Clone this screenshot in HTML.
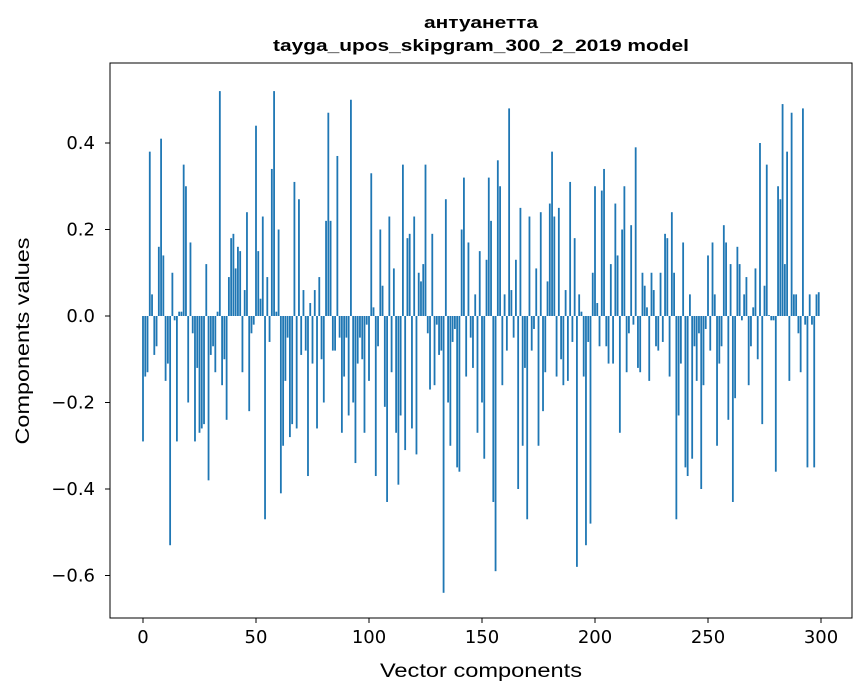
<!DOCTYPE html>
<html><head><meta charset="utf-8"><style>
body{margin:0;background:#fff}
svg{display:block;font-family:"Liberation Sans","DejaVu Sans",sans-serif}
</style></head><body>
<svg id="s" width="867" height="696" viewBox="0 0 867 696" xmlns="http://www.w3.org/2000/svg">
<rect width="867" height="696" fill="#fff"/>
<text x="481" y="28" font-size="17" font-weight="bold" text-anchor="middle" textLength="114" lengthAdjust="spacingAndGlyphs">антуанетта</text>
<text x="481" y="51" font-size="17" font-weight="bold" text-anchor="middle" textLength="416" lengthAdjust="spacingAndGlyphs">tayga_upos_skipgram_300_2_2019 model</text>
<g id="bars" fill="#1f77b4"></g>
<rect x="110" y="63" width="742" height="555" fill="none" stroke="#000" stroke-width="1"/>
<g id="ticks" font-size="18" fill="#000" font-family="DejaVu Sans, sans-serif"></g>
<text x="481" y="677" font-size="19" text-anchor="middle" textLength="202" lengthAdjust="spacingAndGlyphs">Vector components</text>
<text x="29" y="341" font-size="19" text-anchor="middle" transform="rotate(-90 29 341)" textLength="207" lengthAdjust="spacingAndGlyphs">Components values</text>
</svg>
<script>
var v=[-0.29,-0.14,-0.13,0.38,0.05,-0.09,-0.07,0.16,0.41,0.14,-0.15,-0.11,-0.53,0.10,-0.01,-0.29,0.01,0.01,0.35,0.30,-0.2,0.17,-0.04,-0.29,-0.12,-0.27,-0.26,-0.25,0.12,-0.38,-0.09,-0.07,-0.13,0.01,0.52,-0.16,-0.1,-0.24,0.09,0.18,0.19,0.11,0.16,0.15,-0.13,0.06,0.24,-0.22,-0.04,-0.02,0.44,0.15,0.04,0.23,-0.47,0.09,-0.06,0.34,0.52,0.01,0.20,-0.41,-0.30,-0.15,-0.05,-0.28,-0.25,0.31,-0.26,0.27,-0.09,0.06,-0.08,-0.37,0.03,-0.11,0.06,-0.26,0.09,-0.10,-0.2,0.22,0.47,0.22,-0.08,-0.08,0.37,-0.05,-0.27,-0.14,-0.05,-0.23,0.50,-0.2,-0.34,-0.11,-0.05,-0.1,-0.27,-0.02,-0.15,0.33,0.02,-0.37,-0.07,0.2,0.07,-0.21,-0.43,0.23,-0.13,0.11,-0.27,-0.39,-0.23,0.35,-0.31,0.18,0.19,-0.26,0.23,-0.32,0.1,0.08,0.12,0.35,-0.04,-0.17,0.19,-0.16,-0.02,-0.09,-0.08,-0.64,0.27,-0.2,-0.3,-0.06,-0.03,-0.35,-0.36,0.2,0.32,-0.14,0.17,-0.05,-0.12,0.05,-0.27,0.15,-0.2,-0.33,0.13,0.32,0.22,-0.43,-0.59,0.36,0.3,-0.16,0.05,-0.08,0.48,0.06,-0.05,0.13,-0.4,0.25,-0.3,-0.12,-0.47,0.23,-0.08,-0.03,0.11,-0.3,0.24,-0.22,-0.13,0.08,0.26,0.38,0.23,-0.14,0.25,-0.1,-0.16,0.06,-0.15,0.31,-0.06,0.18,-0.58,0.05,0.01,-0.14,-0.53,-0.06,-0.48,0.1,0.3,0.03,-0.07,0.29,0.34,-0.07,-0.11,0.12,-0.11,0.26,0.14,-0.27,0.2,0.3,-0.13,-0.04,0.21,-0.02,0.39,-0.12,-0.13,0.1,0.07,0.02,-0.15,0.1,0.06,-0.07,-0.08,0.1,-0.06,0.19,0.18,-0.14,0.24,0.1,-0.47,-0.23,-0.11,0.17,-0.35,-0.37,0.05,-0.33,-0.07,-0.15,-0.04,-0.4,-0.16,-0.03,0.14,-0.08,0.17,0.05,-0.3,-0.11,-0.07,0.21,0.17,-0.24,0.12,-0.43,-0.19,0.16,0.12,-0.01,0.05,0.09,-0.16,-0.07,0.02,0.11,-0.1,0.4,-0.25,0.07,0.35,0.002,-0.01,-0.01,-0.36,0.3,0.27,0.49,0.12,0.38,-0.15,0.47,0.05,0.05,-0.04,-0.13,0.48,-0.02,-0.35,0.05,-0.02,-0.35,0.05,0.055];
var NS="http://www.w3.org/2000/svg",g=document.getElementById('bars'),t=document.getElementById('ticks');
function X(i){return 143+2.26*i}function Y(y){return 316-432.5*y}
for(var i=0;i<v.length;i++){var r=document.createElementNS(NS,'rect');var y0=Y(0),y1=Y(v[i]);
r.setAttribute('x',X(i)-0.9);r.setAttribute('width',1.8);r.setAttribute('y',Math.min(y0,y1));r.setAttribute('height',Math.abs(y1-y0));g.appendChild(r);}
function el(n,a,txt){var e=document.createElementNS(NS,n);for(var k in a)e.setAttribute(k,a[k]);if(txt!=null)e.textContent=txt;t.appendChild(e);}
for(var k=0;k<=300;k+=50){var x=X(k);el('line',{x1:x,x2:x,y1:618,y2:623,stroke:'#000'});el('text',{x:x,y:643,'text-anchor':'middle'},String(k));}
[-0.6,-0.4,-0.2,0,0.2,0.4].forEach(function(y){var p=Y(y);el('line',{x1:105,x2:110,y1:p,y2:p,stroke:'#000'});el('text',{x:95,y:p+6,'text-anchor':'end'},(y<0?'\u2212':'')+Math.abs(y).toFixed(1));});
</script>
</body></html>
